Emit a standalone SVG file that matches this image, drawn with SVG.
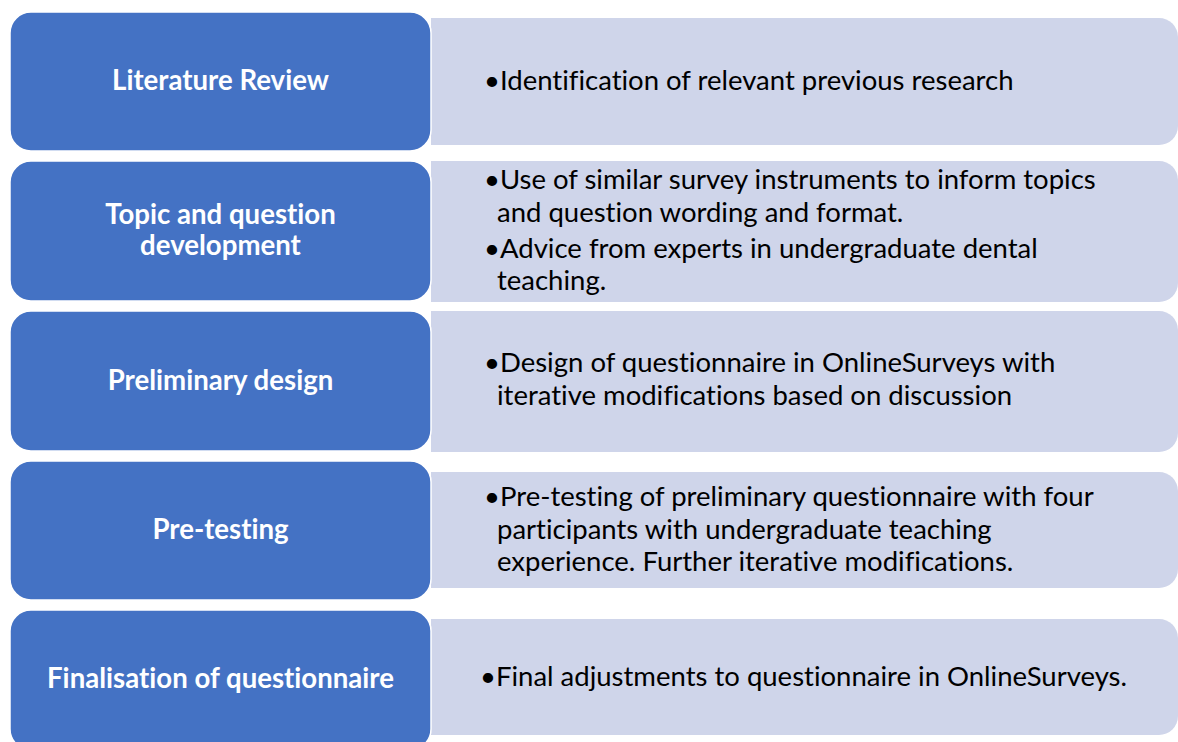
<svg xmlns="http://www.w3.org/2000/svg" width="1178" height="742" viewBox="0 0 1178 742">
  <style>
    .stage { fill: #4472C4; stroke: #FFFFFF; stroke-width: 1.5; }
    .detail { fill: #CFD5EA; }
    .title { font-family: Lato, "Liberation Sans", sans-serif; font-weight: bold; font-size: 27.6px; fill: #FFFFFF; text-anchor: middle; font-variant-ligatures: none; }
    .body { font-family: Lato, "Liberation Sans", sans-serif; font-size: 27.5px; fill: #000000; font-variant-ligatures: none; }
  </style>
  <rect width="1178" height="742" fill="#FFFFFF"/>

  <!-- detail panels sit behind the stage boxes -->
  <g id="detail-literature">
    <path class="detail" d="M431 18 H1159 A19 19 0 0 1 1178 37 V126 A19 19 0 0 1 1159 145 H431 Z"/>
    <text class="body" x="484" y="90">•Identification of relevant previous research</text>
  </g>
  <g id="detail-topic">
    <path class="detail" d="M431 161 H1159 A19 19 0 0 1 1178 180 V283 A19 19 0 0 1 1159 302 H431 Z"/>
    <text class="body" x="484" y="188.5">•Use of similar survey instruments to inform topics</text>
    <text class="body" x="497" y="221.5">and question wording and format.</text>
    <text class="body" x="484" y="258">•Advice from experts in undergraduate dental</text>
    <text class="body" x="497" y="290">teaching.</text>
  </g>
  <g id="detail-preliminary">
    <path class="detail" d="M431 311 H1159 A19 19 0 0 1 1178 330 V433 A19 19 0 0 1 1159 452 H431 Z"/>
    <text class="body" x="484" y="372">•Design of questionnaire in OnlineSurveys with</text>
    <text class="body" x="497" y="405">iterative modifications based on discussion</text>
  </g>
  <g id="detail-pretesting">
    <path class="detail" d="M431 472 H1159 A19 19 0 0 1 1178 491 V569 A19 19 0 0 1 1159 588 H431 Z"/>
    <text class="body" x="484" y="506">•Pre-testing of preliminary questionnaire with four</text>
    <text class="body" x="497" y="539">participants with undergraduate teaching</text>
    <text class="body" x="497" y="571">experience. Further iterative modifications.</text>
  </g>
  <g id="detail-final">
    <path class="detail" d="M431 619 H1159 A19 19 0 0 1 1178 638 V716 A19 19 0 0 1 1159 735 H431 Z"/>
    <text class="body" x="480" y="686">•Final adjustments to questionnaire in OnlineSurveys.</text>
  </g>

  <!-- stage boxes -->
  <g id="stage-literature">
    <rect class="stage" x="10" y="12" width="421" height="139" rx="21"/>
    <text class="title" x="220.5" y="90">Literature Review</text>
  </g>
  <g id="stage-topic">
    <rect class="stage" x="10" y="161" width="421" height="140" rx="21"/>
    <text class="title" x="220.5" y="224">Topic and question</text>
    <text class="title" x="220.5" y="255">development</text>
  </g>
  <g id="stage-preliminary">
    <rect class="stage" x="10" y="311" width="421" height="140" rx="21"/>
    <text class="title" x="220.5" y="390">Preliminary design</text>
  </g>
  <g id="stage-pretesting">
    <rect class="stage" x="10" y="461" width="421" height="139" rx="21"/>
    <text class="title" x="220.5" y="539">Pre-testing</text>
  </g>
  <g id="stage-final">
    <rect class="stage" x="10" y="610" width="421" height="140" rx="21"/>
    <text class="title" x="220.5" y="688">Finalisation of questionnaire</text>
  </g>

  <g id="connectors"></g>
</svg>
